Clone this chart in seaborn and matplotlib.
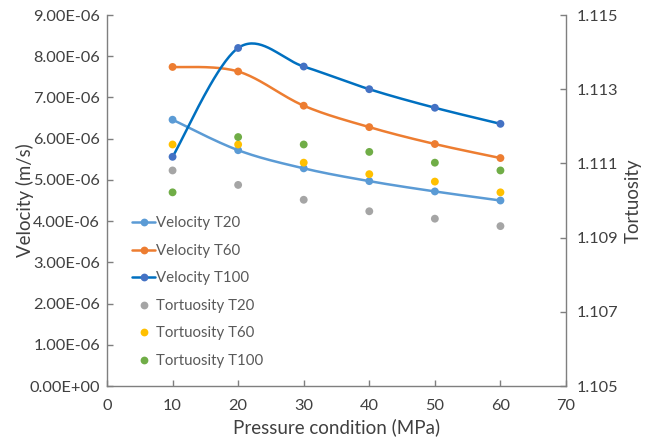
import numpy as np
import pandas as pd
import matplotlib
matplotlib.use("Agg")
import matplotlib.pyplot as plt
from matplotlib.lines import Line2D
import seaborn as sns

# Pressure steps (MPa)
pressure = [10, 20, 30, 40, 50, 60]

# Flow velocity (m/s) at each temperature
vel_t20 = [6.46e-6, 5.72e-6, 5.28e-6, 4.97e-6, 4.72e-6, 4.50e-6]
vel_t60 = [7.74e-6, 7.63e-6, 6.80e-6, 6.28e-6, 5.87e-6, 5.53e-6]
vel_t100 = [5.56e-6, 8.20e-6, 7.75e-6, 7.20e-6, 6.75e-6, 6.36e-6]

# Tortuosity at each temperature
tort_t20 = [1.11081, 1.11042, 1.11002, 1.10971, 1.10951, 1.10931]
tort_t60 = [1.11151, 1.11151, 1.11102, 1.11071, 1.11051, 1.11022]
tort_t100 = [1.11022, 1.11171, 1.11151, 1.11131, 1.11102, 1.11081]

xticks = [0, 10, 20, 30, 40, 50, 60, 70]
vticks = [i * 1e-6 for i in range(10)]
vtick_labels = ["0.00E+00"] + [f"{i}.00E-06" for i in range(1, 10)]
tticks = [1.105, 1.107, 1.109, 1.111, 1.113, 1.115]

sns.set_theme(style="white")
plt.rcParams["font.family"] = ["Lato", "DejaVu Sans"]

TEXT = "#404040"
SPINE = "#7f7f7f"
MARKER_AREA = 32


def smooth_curve(x, y, sx, sy, n=40):
    """Cubic Bezier smoothing (Catmull-Rom style) computed in scaled space."""
    px = np.asarray(x, float) * sx
    py = np.asarray(y, float) * sy
    pts = np.column_stack([px, py])
    out = []
    for i in range(len(pts) - 1):
        p0 = pts[max(i - 1, 0)]
        p1 = pts[i]
        p2 = pts[i + 1]
        p3 = pts[min(i + 2, len(pts) - 1)]
        c1 = p1 + (p2 - p0) / 6.0
        c2 = p2 - (p3 - p1) / 6.0
        t = np.linspace(0, 1, n)[:, None]
        seg = ((1 - t) ** 3) * p1 + 3 * ((1 - t) ** 2) * t * c1 + 3 * (1 - t) * t ** 2 * c2 + t ** 3 * p2
        out.append(seg if i == 0 else seg[1:])
    out = np.vstack(out)
    return out[:, 0] / sx, out[:, 1] / sy


fig = plt.figure(figsize=(6.58, 4.40), dpi=100)
ax = fig.add_axes([0.1626, 0.1227, 0.6976, 0.8432])
ax2 = ax.twinx()

# pixel-ish scale factors for smoothing
sx = 460 / 70.0
sy = 371 / 9e-6

vel_series = [
    ("Velocity T20", vel_t20, "#5B9BD5", "#5B9BD5"),
    ("Velocity T60", vel_t60, "#ED7D31", "#ED7D31"),
    ("Velocity T100", vel_t100, "#0070C0", "#4472C4"),
]
tort_series = [
    ("Tortuosity T20", tort_t20, "#A5A5A5"),
    ("Tortuosity T60", tort_t60, "#FFC000"),
    ("Tortuosity T100", tort_t100, "#70AD47"),
]

handles = []
for label, vals, lc, mc in vel_series:
    cx, cy = smooth_curve(pressure, vals, sx, sy)
    ax.plot(cx, cy, color=lc, lw=1.8, zorder=3)
    df = pd.DataFrame({"p": pressure, "v": vals})
    sns.scatterplot(data=df, x="p", y="v", ax=ax, color=mc, s=MARKER_AREA,
                    edgecolor="none", zorder=4, legend=False)
    handles.append(Line2D([0], [0], color=lc, lw=1.8, marker="o",
                          markersize=5.6, markerfacecolor=mc,
                          markeredgecolor="none", label=label))

for label, vals, c in tort_series:
    df = pd.DataFrame({"p": pressure, "t": vals})
    sns.scatterplot(data=df, x="p", y="t", ax=ax2, color=c, s=MARKER_AREA,
                    edgecolor="none", zorder=4, legend=False)
    handles.append(Line2D([0], [0], color="none", lw=0, marker="o",
                          markersize=5.6, markerfacecolor=c,
                          markeredgecolor="none", label=label))

ax.set_xlim(0, 70)
ax.set_ylim(0, 9e-6)
ax2.set_ylim(1.105, 1.115)
ax.set_xticks(xticks)
ax.set_xticklabels([str(v) for v in xticks])
ax.set_yticks(vticks)
ax.set_yticklabels(vtick_labels)
ax2.set_yticks(tticks)
ax2.set_yticklabels([f"{v:.3f}" for v in tticks])

for a in (ax, ax2):
    a.grid(False)
    a.spines["top"].set_visible(False)
    for side in ("left", "right", "bottom"):
        a.spines[side].set_color(SPINE)
        a.spines[side].set_linewidth(1.0)
    a.tick_params(direction="in", length=4, width=1, color=SPINE,
                  labelsize=11.8, labelcolor=TEXT, pad=5)
ax.tick_params(axis="y", left=True, right=False, pad=5)
ax.tick_params(axis="x", bottom=True, pad=9)
ax2.tick_params(axis="y", right=True, left=False, pad=8)
ax.spines["right"].set_visible(False)
ax2.spines["left"].set_visible(False)
ax2.spines["bottom"].set_visible(False)

ax.set_xlabel("Pressure condition (MPa)", fontsize=13.5, color=TEXT, labelpad=4)
ax.set_ylabel("Velocity (m/s)", fontsize=13.4, color=TEXT, labelpad=-3)
ax2.set_ylabel("Tortuosity", fontsize=13.4, color=TEXT, labelpad=4)

leg = ax.legend(handles=handles, loc="upper left",
                bbox_to_anchor=(0.1915, 0.522), bbox_transform=fig.transFigure,
                frameon=False, fontsize=10.8, handlelength=1.55,
                handletextpad=0.08, labelspacing=0.9, borderaxespad=0)
for t in leg.get_texts():
    t.set_color("#595959")

fig.savefig("out.png", dpi=100)
